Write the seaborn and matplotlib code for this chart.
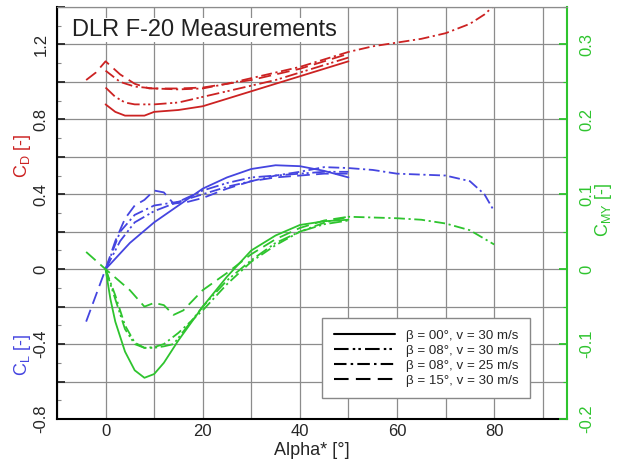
import numpy as np
import matplotlib
matplotlib.use("Agg")
import matplotlib.pyplot as plt
from matplotlib.lines import Line2D
from matplotlib.ticker import MultipleLocator, FuncFormatter
import seaborn as sns

# --- data (alpha in degrees) ---
series_labels = ["β = 00°, v = 30 m/s", "β = 08°, v = 30 m/s",
                 "β = 08°, v = 25 m/s", "β = 15°, v = 30 m/s"]

# drag coefficient
cd_alpha_00 = [0, 2, 4, 6, 8, 10, 15, 20, 25, 30, 35, 40, 45, 50]
cd_00 = [0.88, 0.84, 0.82, 0.82, 0.82, 0.84, 0.85, 0.87, 0.91, 0.95, 0.99, 1.03, 1.07, 1.11]
cd_alpha_08 = [0, 2, 4, 6, 8, 10, 15, 20, 25, 30, 35, 40, 45, 50]
cd_08 = [0.97, 0.92, 0.89, 0.88, 0.88, 0.88, 0.89, 0.92, 0.95, 0.98, 1.01, 1.05, 1.09, 1.13]
cd_alpha_08s = [0, 3, 6, 10, 15, 20, 25, 30, 35, 40, 45, 50, 55, 60, 65, 70, 75, 78, 80.5]
cd_08s = [1.06, 1.0, 0.975, 0.965, 0.96, 0.965, 0.99, 1.02, 1.05, 1.08, 1.12, 1.16,
          1.19, 1.21, 1.23, 1.26, 1.31, 1.36, 1.42]
cd_alpha_15 = [-4, -2, 0, 3, 6, 9, 12, 15, 20, 25, 30, 35, 40, 45, 50]
cd_15 = [1.01, 1.05, 1.11, 1.04, 0.99, 0.965, 0.965, 0.965, 0.97, 0.99, 1.01, 1.04, 1.07, 1.11, 1.15]

# lift coefficient
cl_alpha_00 = [0, 5, 10, 15, 20, 25, 30, 35, 40, 45, 50]
cl_00 = [0.0, 0.14, 0.25, 0.34, 0.43, 0.49, 0.535, 0.555, 0.55, 0.525, 0.49]
cl_alpha_08 = [0, 3, 6, 10, 15, 20, 25, 30, 35, 40, 45, 50]
cl_08 = [0.0, 0.15, 0.25, 0.31, 0.36, 0.42, 0.46, 0.49, 0.50, 0.51, 0.52, 0.52]
cl_alpha_08s = [0, 3, 6, 10, 15, 20, 25, 30, 35, 40, 45, 50, 55, 60, 65, 70, 75, 78, 80]
cl_08s = [0.0, 0.2, 0.29, 0.34, 0.36, 0.40, 0.44, 0.47, 0.50, 0.52, 0.545, 0.54,
          0.53, 0.51, 0.505, 0.50, 0.47, 0.40, 0.31]
cl_alpha_15 = [-4, -2, 0, 2, 4, 6, 8, 10, 12, 14, 17, 20, 25, 30, 35, 40, 45, 50]
cl_15 = [-0.28, -0.14, 0.0, 0.15, 0.27, 0.34, 0.37, 0.42, 0.41, 0.35, 0.36, 0.38,
         0.43, 0.47, 0.49, 0.50, 0.51, 0.51]

# pitching moment coefficient
cmy_alpha_00 = [0, 1, 2, 4, 6, 8, 10, 12, 15, 20, 25, 30, 35, 40, 45, 50]
cmy_00 = [0.0, -0.04, -0.07, -0.11, -0.135, -0.145, -0.14, -0.125, -0.095, -0.05,
          -0.01, 0.025, 0.045, 0.059, 0.064, 0.066]
cmy_alpha_08 = [0, 2, 4, 6, 8, 10, 12, 14, 17, 20, 25, 30, 35, 40, 45, 50]
cmy_08 = [0.0, -0.04, -0.08, -0.1, -0.105, -0.105, -0.103, -0.1, -0.075, -0.05,
          -0.015, 0.012, 0.035, 0.05, 0.06, 0.065]
cmy_alpha_08s = [0, 2, 4, 6, 8, 10, 12, 15, 20, 25, 30, 35, 40, 45, 50, 55, 60, 65, 70, 75, 80]
cmy_08s = [0.0, -0.035, -0.075, -0.098, -0.105, -0.104, -0.1, -0.085, -0.055, -0.02,
           0.01, 0.032, 0.05, 0.062, 0.07, 0.069, 0.068, 0.066, 0.061, 0.052, 0.033]
cmy_alpha_15 = [-4, 0, 5, 8, 10, 12, 14, 16, 20, 25, 30, 35, 40, 45, 50]
cmy_15 = [0.023, 0.0, -0.028, -0.05, -0.045, -0.048, -0.061, -0.055, -0.028, -0.005,
          0.02, 0.04, 0.055, 0.065, 0.07]

styles = ["-", (0, (7, 2, 1.2, 1.5, 1.2, 2)), (0, (6, 2, 1.2, 2)), (0, (7, 3.5))]
red, blue, green = "#cc2222", "#4545e0", "#2ec42e"

sns.set_style("white")
plt.rcParams["font.family"] = ["Liberation Sans", "DejaVu Sans"]
plt.rcParams["mathtext.fontset"] = "custom"
plt.rcParams["mathtext.rm"] = "Liberation Sans"
plt.rcParams["mathtext.it"] = "Liberation Sans"

fig = plt.figure(figsize=(6.2, 4.61), dpi=100)
ax = fig.add_axes([57 / 620, 42 / 461, 510 / 620, 412 / 461])
ax2 = ax.twinx()

cd_sets = [(cd_alpha_00, cd_00), (cd_alpha_08, cd_08), (cd_alpha_08s, cd_08s), (cd_alpha_15, cd_15)]
cl_sets = [(cl_alpha_00, cl_00), (cl_alpha_08, cl_08), (cl_alpha_08s, cl_08s), (cl_alpha_15, cl_15)]
cmy_sets = [(cmy_alpha_00, cmy_00), (cmy_alpha_08, cmy_08), (cmy_alpha_08s, cmy_08s), (cmy_alpha_15, cmy_15)]

for (xa, ya), ls in zip(cd_sets, styles):
    sns.lineplot(x=xa, y=ya, ax=ax, color=red, linestyle=ls, linewidth=1.3)
for (xa, ya), ls in zip(cl_sets, styles):
    sns.lineplot(x=xa, y=ya, ax=ax, color=blue, linestyle=ls, linewidth=1.3)
for (xa, ya), ls in zip(cmy_sets, styles):
    sns.lineplot(x=xa, y=ya, ax=ax2, color=green, linestyle=ls, linewidth=1.3)

# axes ranges
ax.set_xlim(-10, 95)
ax.set_ylim(-0.8, 1.4)
ax2.set_ylim(-0.2, 0.35)

# ticks and grid
ax.xaxis.set_major_locator(MultipleLocator(10))
ax.xaxis.set_minor_locator(MultipleLocator(5))
ax.yaxis.set_major_locator(MultipleLocator(0.2))
ax.yaxis.set_minor_locator(MultipleLocator(0.1))
ax2.yaxis.set_major_locator(MultipleLocator(0.1))
ax2.yaxis.set_minor_locator(MultipleLocator(0.05))


def x_fmt(v, pos):
    r = int(round(v))
    return str(r) if r % 20 == 0 and 0 <= r <= 80 else ""


def y_fmt(v, pos):
    r = int(round(v * 10))
    if r % 4 != 0:
        return ""
    return "0" if r == 0 else f"{v:.1f}"


def y2_fmt(v, pos):
    return "0" if abs(v) < 1e-9 else f"{v:.1f}"


ax.xaxis.set_major_formatter(FuncFormatter(x_fmt))
ax.yaxis.set_major_formatter(FuncFormatter(y_fmt))
ax2.yaxis.set_major_formatter(FuncFormatter(y2_fmt))

ax.grid(True, which="major", color="#8c8c8c", linewidth=0.9)
ax.set_axisbelow(True)
ax.tick_params(axis="both", which="major", direction="in", length=6, width=1.3,
               labelsize=12, top=False, right=False)
ax.tick_params(axis="both", which="minor", direction="in", length=3, width=0.8,
               color="#888888", top=False, right=False)
ax.tick_params(axis="y", which="major", pad=6)
for lab in ax.get_yticklabels():
    lab.set_rotation(90)
    lab.set_va("center")
ax2.tick_params(axis="y", which="major", direction="in", length=6, width=1.3,
                colors=green, labelsize=12, pad=9)
ax2.tick_params(axis="y", which="minor", direction="in", length=3, width=0.8,
                colors=green)
for lab in ax2.get_yticklabels():
    lab.set_rotation(90)
    lab.set_va("center")

for side in ["left", "bottom"]:
    ax.spines[side].set_color("black")
    ax.spines[side].set_linewidth(1.5)
ax.spines["top"].set_color("#8c8c8c")
ax.spines["right"].set_visible(False)
ax2.spines["left"].set_visible(False)
ax2.spines["bottom"].set_visible(False)
ax2.spines["top"].set_color("#8c8c8c")
ax2.spines["right"].set_color(green)
ax2.spines["right"].set_linewidth(1.5)

ax.set_xlabel("Alpha* [°]", fontsize=13, labelpad=2)
ax.set_ylabel("")
ax2.set_ylabel("")

# axis titles in colour
ax.text(-0.068, 0.64, r"C$_\mathregular{D}$ [-]", transform=ax.transAxes, rotation=90,
        color=red, fontsize=13, ha="center", va="center")
ax.text(-0.068, 0.155, r"C$_\mathregular{L}$ [-]", transform=ax.transAxes, rotation=90,
        color=blue, fontsize=13, ha="center", va="center")
ax2.text(1.072, 0.507, r"C$_\mathregular{MY}$ [-]", transform=ax.transAxes, rotation=90,
         color=green, fontsize=13, ha="center", va="center")

ax2.text(0.03, 0.944, "DLR F-20 Measurements", transform=ax.transAxes, fontsize=17,
         ha="left", va="center", color="#222222",
         bbox=dict(facecolor="white", edgecolor="none", pad=1))

handles = [Line2D([], [], color="black", linestyle=ls, linewidth=1.5) for ls in styles]
leg = ax2.legend(handles, series_labels, loc="lower right", bbox_to_anchor=(0.927, 0.051),
                 borderaxespad=0, fontsize=9.6, frameon=True, fancybox=False, framealpha=1,
                 edgecolor="#888888", handlelength=4.6, labelspacing=0.2,
                 borderpad=0.85, handletextpad=0.8)
leg.get_frame().set_linewidth(1.0)

fig.savefig("out.png", dpi=100)
